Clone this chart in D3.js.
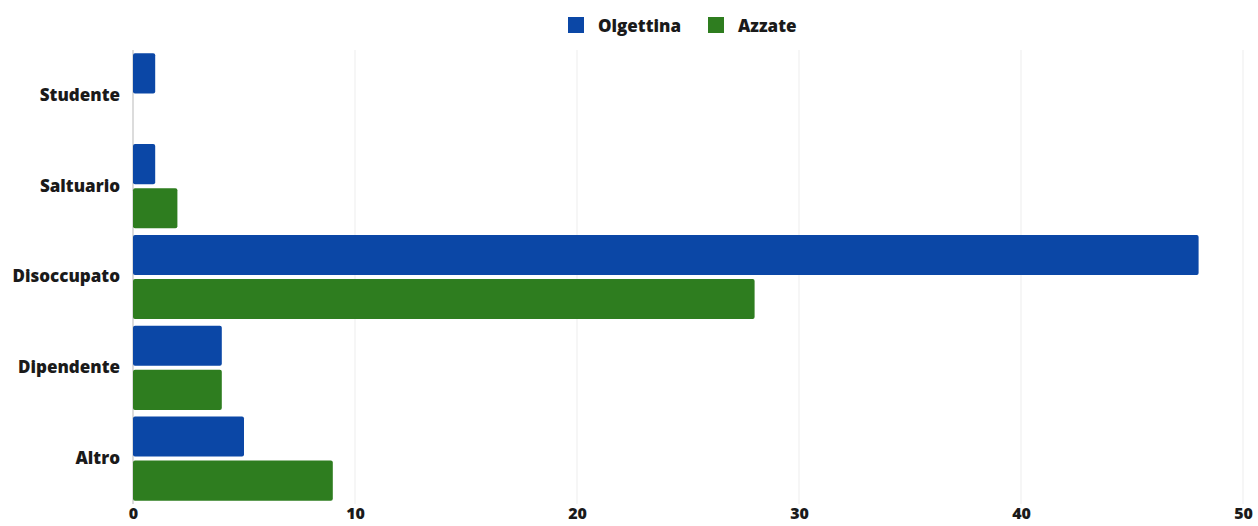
<!DOCTYPE html>
<html>
<head>
<meta charset="utf-8">
<script src="https://cdn.jsdelivr.net/npm/d3@7"></script>
<style>
  html, body { margin: 0; padding: 0; background: #fff; }
  svg text { font-family: "Open Sans", Lato, sans-serif; font-weight: 800; fill: #1a1a1a; }
</style>
</head>
<body>
<svg id="chart" width="1258" height="526"></svg>
<script>
const categories = ["Studente", "Saltuario", "Disoccupato", "Dipendente", "Altro"];
const seriesNames = ["Olgettina", "Azzate"];
const olgettina = [1, 1, 48, 4, 5];
const azzate = [0, 2, 28, 4, 9];
const xTicks = [0, 10, 20, 30, 40, 50];
const colors = ["#0b47a6", "#2e7d1f"];

const data = categories.map((c, i) => ({ cat: c, values: [olgettina[i], azzate[i]] }));

const svg = d3.select("#chart");
const x = d3.scaleLinear().domain([0, 50]).range([133, 1243]);
const y0 = d3.scaleBand().domain(categories).range([50, 504]).paddingInner(0.073).paddingOuter(0.0365);
const y1 = d3.scaleBand().domain(seriesNames).range([0, y0.bandwidth()]).paddingInner(0.09);

// gridlines
svg.append("g").selectAll("line").data(xTicks.slice(1)).join("line")
  .attr("x1", d => x(d)).attr("x2", d => x(d))
  .attr("y1", 50).attr("y2", 504)
  .attr("stroke", "#f6f6f6").attr("stroke-width", 2);

// baseline
svg.append("line").attr("x1", x(0)).attr("x2", x(0)).attr("y1", 50).attr("y2", 504)
  .attr("stroke", "#d0d0d0").attr("stroke-width", 1.5);

// bars
const groups = svg.append("g").selectAll("g").data(data).join("g")
  .attr("transform", d => `translate(0,${y0(d.cat)})`);
groups.selectAll("rect").data(d => d.values.map((v, i) => ({ v, i })))
  .join("rect")
  .attr("x", x(0))
  .attr("y", d => y1(seriesNames[d.i]))
  .attr("width", d => Math.max(0, x(d.v) - x(0)))
  .attr("height", y1.bandwidth())
  .attr("rx", 2)
  .attr("fill", d => colors[d.i]);

// y labels
const yAxis = d3.axisLeft(y0).tickSize(0).tickPadding(13);
const gy = svg.append("g").attr("transform", `translate(${x(0)},0)`).call(yAxis);
gy.select(".domain").remove();
gy.selectAll("text").attr("font-size", 17).style("font-family", "'Open Sans', sans-serif").style("font-weight", 800).attr("fill", "#1a1a1a");

// x axis labels
const xAxis = d3.axisBottom(x).tickValues(xTicks).tickSize(0).tickPadding(4);
const gx = svg.append("g").attr("transform", `translate(0,504)`).call(xAxis);
gx.select(".domain").remove();
gx.selectAll("text").attr("font-size", 16).style("font-family", "'Open Sans', sans-serif").style("font-weight", 800).attr("fill", "#1a1a1a");

// legend
const legend = svg.append("g");
const legendX = [568, 708];
seriesNames.forEach((s, i) => {
  legend.append("rect").attr("x", legendX[i]).attr("y", 17).attr("width", 16).attr("height", 16).attr("fill", colors[i]);
  legend.append("text").attr("x", legendX[i] + 30).attr("y", 31.5).attr("font-size", 17).text(s);
});
</script>
</body>
</html>
